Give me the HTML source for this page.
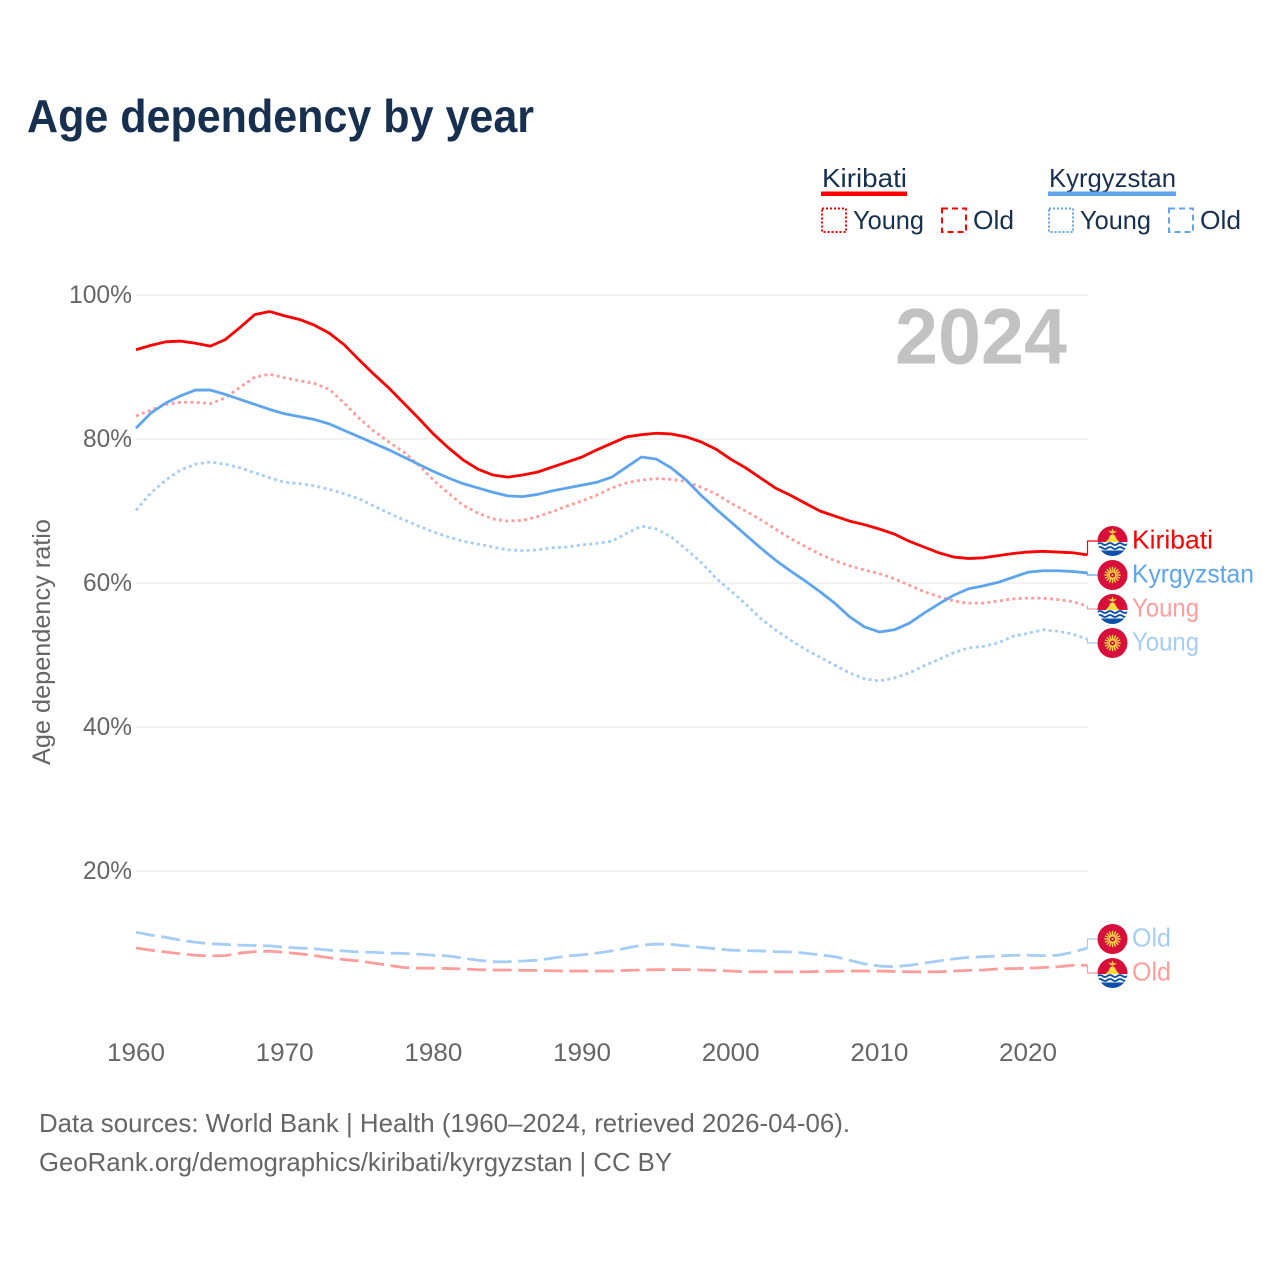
<!DOCTYPE html>
<html lang="en">
<head>
<meta charset="utf-8">
<title>Age dependency by year</title>
<style>
html,body{margin:0;padding:0;background:#fff;}
svg{display:block;}
text{font-family:"Liberation Sans",sans-serif;}
</style>
</head>
<body>
<svg id="chart" xmlns="http://www.w3.org/2000/svg" width="1280" height="1280" viewBox="0 0 1280 1280">
  <rect x="0" y="0" width="1280" height="1280" fill="#fff"/>
  <text x="27" y="132" font-size="46" font-weight="700" fill="#17304f" textLength="507" lengthAdjust="spacingAndGlyphs">Age dependency by year</text>

  <g font-size="26" fill="#17304f">
    <text x="822" y="187" textLength="85" lengthAdjust="spacingAndGlyphs">Kiribati</text>
    <rect x="821" y="191.5" width="86" height="4.5" fill="#ff0000"/>
    <rect x="822" y="208.5" width="24" height="23.5" fill="none" stroke="#ff0000" stroke-width="2" stroke-dasharray="2 2"/>
    <text x="853" y="229" textLength="71" lengthAdjust="spacingAndGlyphs">Young</text>
    <rect x="942" y="208.5" width="24" height="23.5" fill="none" stroke="#ff0000" stroke-width="2" stroke-dasharray="6 4"/>
    <text x="973" y="229" textLength="41" lengthAdjust="spacingAndGlyphs">Old</text>

    <text x="1049" y="187" textLength="127" lengthAdjust="spacingAndGlyphs">Kyrgyzstan</text>
    <rect x="1048" y="191.5" width="128" height="4.5" fill="#5ea5ee"/>
    <rect x="1049" y="208.5" width="24" height="23.5" fill="none" stroke="#5ea5ee" stroke-width="2" stroke-dasharray="2 2"/>
    <text x="1080" y="229" textLength="71" lengthAdjust="spacingAndGlyphs">Young</text>
    <rect x="1169" y="208.5" width="24" height="23.5" fill="none" stroke="#5ea5ee" stroke-width="2" stroke-dasharray="6 4"/>
    <text x="1200" y="229" textLength="41" lengthAdjust="spacingAndGlyphs">Old</text>
  </g>

  <g id="grid"></g>
  <g id="yticks"></g>
  <g id="xticks"></g>
  <text transform="translate(50,765) rotate(-90)" x="0" y="0" font-size="25" fill="#666" textLength="246" lengthAdjust="spacingAndGlyphs">Age dependency ratio</text>
  <text x="895" y="363.5" font-size="79" font-weight="700" fill="#c2c2c2" textLength="172" lengthAdjust="spacingAndGlyphs">2024</text>

  <g id="series"></g>
  <g id="labels"></g>

  <g font-size="26" fill="#666">
    <text x="39" y="1132" textLength="811" lengthAdjust="spacingAndGlyphs">Data sources: World Bank | Health (1960–2024, retrieved 2026-04-06).</text>
    <text x="39" y="1171" textLength="633" lengthAdjust="spacingAndGlyphs">GeoRank.org/demographics/kiribati/kyrgyzstan | CC BY</text>
  </g>
</svg>
<script>
var startYear = 1960;
var yTickValues = [20, 40, 60, 80, 100];
var yTickLabels = ["20%", "40%", "60%", "80%", "100%"];
var xTickValues = [1960, 1970, 1980, 1990, 2000, 2010, 2020];
var xTickLabels = ["1960", "1970", "1980", "1990", "2000", "2010", "2020"];

var kiribatiTotal = [92.4,93.0,93.5,93.6,93.3,92.9,93.8,95.5,97.3,97.7,97.1,96.6,95.8,94.7,93.1,91.0,89.0,87.1,85.0,82.9,80.7,78.8,77.1,75.8,75.0,74.7,75.0,75.4,76.1,76.8,77.5,78.5,79.4,80.3,80.6,80.8,80.7,80.3,79.6,78.6,77.2,76.0,74.6,73.2,72.2,71.1,70.0,69.3,68.6,68.1,67.5,66.8,65.8,65.0,64.2,63.6,63.4,63.5,63.8,64.1,64.3,64.4,64.3,64.2,63.9];
var kyrgyzstanTotal = [81.5,83.6,85.0,86.0,86.8,86.8,86.2,85.5,84.8,84.1,83.5,83.1,82.7,82.1,81.2,80.3,79.4,78.5,77.5,76.5,75.5,74.6,73.8,73.2,72.6,72.1,72.0,72.3,72.8,73.2,73.6,74.0,74.7,76.1,77.5,77.2,76.0,74.3,72.2,70.3,68.5,66.7,64.9,63.2,61.7,60.3,58.8,57.2,55.3,53.9,53.2,53.5,54.4,55.8,57.1,58.3,59.2,59.6,60.1,60.8,61.5,61.7,61.7,61.6,61.4];
var kiribatiYoung = [83.2,84.0,84.8,85.1,85.1,84.9,85.7,87.2,88.6,89.0,88.5,88.1,87.7,86.9,85.0,82.9,81.1,79.6,78.2,76.4,74.3,72.5,70.8,69.7,68.9,68.6,68.7,69.2,69.9,70.7,71.4,72.2,73.2,73.9,74.3,74.5,74.4,74.1,73.3,72.4,71.1,70.0,68.8,67.5,66.2,65.1,64.0,63.1,62.4,61.8,61.3,60.6,59.7,58.8,58.1,57.5,57.2,57.2,57.5,57.8,57.9,57.9,57.7,57.4,56.8];
var kyrgyzstanYoung = [70.1,72.5,74.3,75.7,76.5,76.8,76.5,76.0,75.3,74.6,74.0,73.8,73.5,73.0,72.4,71.7,70.7,69.7,68.8,67.9,67.1,66.4,65.8,65.4,65.0,64.6,64.5,64.6,64.9,65.0,65.3,65.5,65.8,66.9,67.9,67.5,66.4,64.7,62.9,60.7,58.9,57.1,55.1,53.5,52.1,50.8,49.7,48.6,47.5,46.7,46.4,46.8,47.5,48.5,49.4,50.3,51.0,51.2,51.7,52.6,53.0,53.5,53.3,52.9,52.2];
var kiribatiOld = [9.3,9.0,8.75,8.5,8.3,8.2,8.25,8.6,8.8,8.85,8.7,8.5,8.25,7.95,7.7,7.5,7.2,6.9,6.6,6.5,6.5,6.45,6.4,6.3,6.25,6.25,6.2,6.2,6.15,6.1,6.1,6.1,6.1,6.2,6.25,6.3,6.3,6.3,6.25,6.2,6.1,6.0,6.0,6.0,6.0,6.0,6.05,6.07,6.1,6.1,6.1,6.05,6.0,6.0,6.0,6.1,6.2,6.25,6.4,6.45,6.5,6.6,6.7,6.9,6.9];
var kyrgyzstanOld = [11.5,11.1,10.8,10.4,10.1,9.9,9.8,9.7,9.65,9.6,9.4,9.3,9.2,9.0,8.9,8.75,8.7,8.6,8.55,8.45,8.3,8.2,7.9,7.6,7.4,7.4,7.5,7.6,7.9,8.2,8.35,8.6,8.9,9.3,9.7,9.85,9.8,9.6,9.4,9.2,9.0,8.95,8.9,8.8,8.75,8.6,8.35,8.1,7.6,7.1,6.8,6.7,6.9,7.2,7.5,7.8,8.0,8.1,8.2,8.3,8.3,8.25,8.3,8.7,9.3];

var NS = "http://www.w3.org/2000/svg";
var plot = {left: 136, right: 1087.5, top: 295, bottom: 1015};
var pxPerYear = (plot.right - plot.left) / 64;
function xScale(year) { return plot.left + (year - startYear) * pxPerYear; }
function yScale(v) { return plot.bottom - v * (plot.bottom - plot.top) / 100; }
function mk(tag, attrs, parent) {
  var el = document.createElementNS(NS, tag);
  for (var k in attrs) el.setAttribute(k, attrs[k]);
  if (parent) parent.appendChild(el);
  return el;
}

var gridG = document.getElementById("grid");
var yTickG = document.getElementById("yticks");
var xTickG = document.getElementById("xticks");
yTickValues.forEach(function (v, i) {
  var line = mk("line", {x1: plot.left, x2: plot.right, y1: yScale(v), y2: yScale(v), stroke: "#e9e9e9", "stroke-width": 1.2}, gridG);
  
  
  var label = yTickLabels[i];
  var t = mk("text", {x: 69 + (label.length === 4 ? 0 : 14), y: yScale(v) + 8, "font-size": 25, fill: "#666", textLength: label.length === 4 ? 63 : 49, lengthAdjust: "spacingAndGlyphs"}, yTickG);
  
  
  t.textContent = label;
});
xTickValues.forEach(function (v, i) {
  var t = mk("text", {x: xScale(v) - 29, y: 1061, "font-size": 25, fill: "#666", textLength: 58, lengthAdjust: "spacingAndGlyphs"}, xTickG);
  
  
  t.textContent = xTickLabels[i];
});

var RED = "#ff0000", BLUE = "#5ea5ee", PINK = "#ff9d9d", SKY = "#a5cdf6";
function linePoints(vals) {
  return vals.map(function (v, i) { return xScale(startYear + i).toFixed(2) + "," + yScale(v).toFixed(2); }).join(" ");
}
var seriesG = document.getElementById("series");
function drawSeries(vals, color, dash, name) {
  var attrs = {points: linePoints(vals), fill: "none", stroke: color, "stroke-width": 2.8, "stroke-linejoin": "round"};
  if (dash) attrs["stroke-dasharray"] = dash;
  var p = mk("polyline", attrs, seriesG);
  
  
}
drawSeries(kiribatiOld, PINK, "19 6.6", "line-kiribati-old");
drawSeries(kyrgyzstanOld, SKY, "19 6.6", "line-kyrgyzstan-old");
drawSeries(kyrgyzstanYoung, SKY, "3 3.3", "line-kyrgyzstan-young");
drawSeries(kiribatiYoung, PINK, "3 3.3", "line-kiribati-young");
drawSeries(kyrgyzstanTotal, BLUE, "", "line-kyrgyzstan-total");
drawSeries(kiribatiTotal, RED, "", "line-kiribati-total");

var defs = mk("defs", {}, document.getElementById("chart"));
var clip = mk("clipPath", {id: "flag-clip"}, defs);
mk("circle", {cx: 0, cy: 0, r: 15}, clip);

function drawKiribati(g) {
  var c = mk("g", {"clip-path": "url(#flag-clip)"}, g);
  mk("rect", {x: -15, y: -15, width: 30, height: 16, fill: "#d80f3a"}, c);
  mk("rect", {x: -15, y: 1, width: 30, height: 14, fill: "#f4f4f4"}, c);
  mk("rect", {x: -15, y: 9.5, width: 30, height: 6, fill: "#0a4fa8"}, c);
  mk("path", {d: "M-15 3 q2.5 -2 5 0 t5 0 t5 0 t5 0 t5 0 t5 0", fill: "none", stroke: "#0a4fa8", "stroke-width": 1.8}, c);
  mk("path", {d: "M-15 7 q2.5 -2 5 0 t5 0 t5 0 t5 0 t5 0 t5 0", fill: "none", stroke: "#0a4fa8", "stroke-width": 1.8}, c);
  mk("path", {d: "M-7 1 L-4 -2 L-2.5 -5.5 L0 -7 L2.5 -5.5 L4 -2 L7 1 Z", fill: "#ffda44"}, c);
  mk("path", {d: "M-4.5 -10.5 L0 -9 L4.5 -10.5 L2 -8 L0 -7.5 L-2 -8 Z M0 -12.5 L1.4 -9 L-1.4 -9 Z", fill: "#ffda44"}, c);
}
function drawKyrgyz(g) {
  mk("circle", {cx: 0, cy: 0, r: 15, fill: "#d80f3a"}, g);
  for (var a = 0; a < 16; a++) {
    var r = a * Math.PI / 8;
    mk("line", {x1: 4.5 * Math.cos(r), y1: 4.5 * Math.sin(r), x2: 8.2 * Math.cos(r), y2: 8.2 * Math.sin(r), stroke: "#ffda44", "stroke-width": 1.4}, g);
  }
  mk("circle", {cx: 0, cy: 0, r: 4.4, fill: "#ffda44"}, g);
  mk("circle", {cx: 0, cy: 0, r: 2.6, fill: "#d80f3a"}, g);
  mk("circle", {cx: 0, cy: 0, r: 1, fill: "#ffda44"}, g);
}

var labelsG = document.getElementById("labels");
function drawEndLabel(text, vals, color, lineColor, labelY, width, flagFn, name) {
  var yEnd = yScale(vals[vals.length - 1]);
  var leader = mk("polyline", {points: plot.right + "," + yEnd + " " + plot.right + "," + labelY + " 1098," + labelY, fill: "none", stroke: lineColor, "stroke-width": 1.2}, labelsG);
  
  
  var flag = mk("g", {transform: "translate(1112.5," + labelY + ")"}, labelsG);
  
  
  flagFn(flag);
  var t = mk("text", {x: 1132, y: labelY + 7.5, "font-size": 26, fill: color, textLength: width, lengthAdjust: "spacingAndGlyphs"}, labelsG);
  
  
  t.textContent = text;
}
drawEndLabel("Kiribati", kiribatiTotal, RED, RED, 541, 81, drawKiribati, "end-kiribati-total");
drawEndLabel("Kyrgyzstan", kyrgyzstanTotal, BLUE, BLUE, 575, 122, drawKyrgyz, "end-kyrgyzstan-total");
drawEndLabel("Young", kiribatiYoung, PINK, PINK, 609, 67, drawKiribati, "end-kiribati-young");
drawEndLabel("Young", kyrgyzstanYoung, SKY, SKY, 643, 67, drawKyrgyz, "end-kyrgyzstan-young");
drawEndLabel("Old", kyrgyzstanOld, SKY, SKY, 939, 39, drawKyrgyz, "end-kyrgyzstan-old");
drawEndLabel("Old", kiribatiOld, PINK, PINK, 973, 39, drawKiribati, "end-kiribati-old");
</script>
</body>
</html>
